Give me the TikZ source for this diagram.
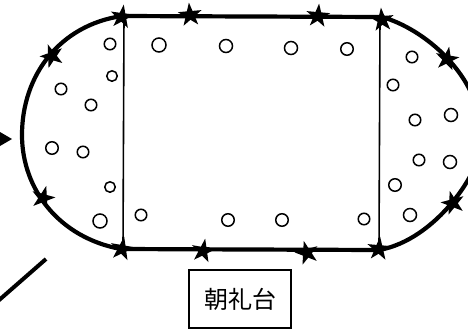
\documentclass[tikz,border=0pt]{standalone}
\usepackage{fontspec}
\newfontfamily\cjk{Noto Sans CJK JP}
\usetikzlibrary{shapes.geometric}
\tikzset{
  starmark/.style={star,star points=5,star point ratio=2.6,fill=black,draw=none,inner sep=0pt,minimum size=25pt},
  seat/.style={circle,draw=black,line width=1.5pt,fill=white,inner sep=0pt,minimum size=11.5pt},
  track/.style={line width=4.2pt,line cap=round},
  divider/.style={line width=1.6pt},
  stage/.style={draw=black,line width=1.2pt,minimum width=102pt,minimum height=58pt,inner sep=0pt,font=\cjk\fontsize{24}{24}\selectfont},
  sidetriangle/.style={fill=black,draw=none},
  barline/.style={line width=4pt}
}
\begin{document}
\begin{tikzpicture}[x=1pt,y=-1pt]
\useasboundingbox (0,0) rectangle (468,330);
\clip (0,0) rectangle (468,330);
% corner and edge points
\coordinate (tl) at (122,16);
\coordinate (tr) at (382,17);
\coordinate (bl) at (121,249);
\coordinate (br) at (379,250);
\coordinate (lm) at (22,135);
\coordinate (rm) at (482,140);
\coordinate (dtl) at (124,16);
\coordinate (dbl) at (123,248);
\coordinate (dtr) at (380,17);
\coordinate (dbr) at (379,248);
% track
\draw[track] (tl) .. controls (60,25) and (22,75) .. (lm)
  .. controls (22,190) and (60,238) .. (bl) -- (br)
  .. controls (436,240) and (482,171) .. (rm)
  .. controls (482,74) and (422,28) .. (tr) -- cycle;
\draw[divider] (dtl) -- (dbl);
\draw[divider] (dtr) -- (dbr);
% stars
\node[starmark,rotate=-8] (s1) at (122,17) {};
\node[starmark,rotate=5] (s2) at (190,15) {};
\node[starmark,rotate=-5] (s3) at (318,16) {};
\node[starmark,rotate=5] (s4) at (382,20) {};
\node[starmark,rotate=20] (s5) at (52,56) {};
\node[starmark,rotate=-10] (s6) at (447,59) {};
\node[starmark,rotate=-15] (s7) at (43,198) {};
\node[starmark,rotate=15] (s8) at (453,203) {};
\node[starmark,rotate=-10] (s9) at (122,249) {};
\node[starmark,rotate=-10] (s10) at (203,251) {};
\node[starmark,rotate=15] (s11) at (307,253) {};
\node[starmark,rotate=-5] (s12) at (379,249) {};
% seats
\node[seat] (c1) at (110,44) {};
\node[seat,minimum size=10.5pt] (c2) at (112,76) {};
\node[seat] (c3) at (61,89) {};
\node[seat] (c4) at (91,105) {};
\node[seat,minimum size=12.5pt] (c5) at (52,148) {};
\node[seat] (c6) at (83,152) {};
\node[seat,minimum size=14pt] (c7) at (159,45) {};
\node[seat,minimum size=13pt] (c8) at (226,46) {};
\node[seat,minimum size=13pt] (c9) at (291,48) {};
\node[seat,minimum size=12.5pt] (c10) at (347,49) {};
\node[seat] (c11) at (412,57) {};
\node[seat] (c12) at (393,85) {};
\node[seat] (c13) at (415,120) {};
\node[seat,minimum size=13pt] (c14) at (451,115) {};
\node[seat] (c15) at (419,160) {};
\node[seat,minimum size=13pt] (c16) at (450,162) {};
\node[seat,minimum size=10.5pt] (c17) at (110,187) {};
\node[seat,minimum size=14pt] (c18) at (100,221) {};
\node[seat,minimum size=11.5pt] (c19) at (141,215) {};
\node[seat,minimum size=12.5pt] (c20) at (228,220) {};
\node[seat,minimum size=12.5pt] (c21) at (282,220) {};
\node[seat,minimum size=11.5pt] (c22) at (364,219) {};
\node[seat,minimum size=12.5pt] (c23) at (395,185) {};
\node[seat,minimum size=13pt] (c24) at (410,215) {};
% left edge marks
\coordinate (t1) at (0,132);
\coordinate (t2) at (12,139);
\coordinate (t3) at (0,146);
\fill[sidetriangle] (t1) -- (t2) -- (t3) -- cycle;
\coordinate (b1) at (46,259);
\coordinate (b2) at (-2,301);
\draw[barline] (b1) -- (b2);
% stage
\node[stage] (board) at (240,299) {朝礼台};
\end{tikzpicture}
\end{document}
